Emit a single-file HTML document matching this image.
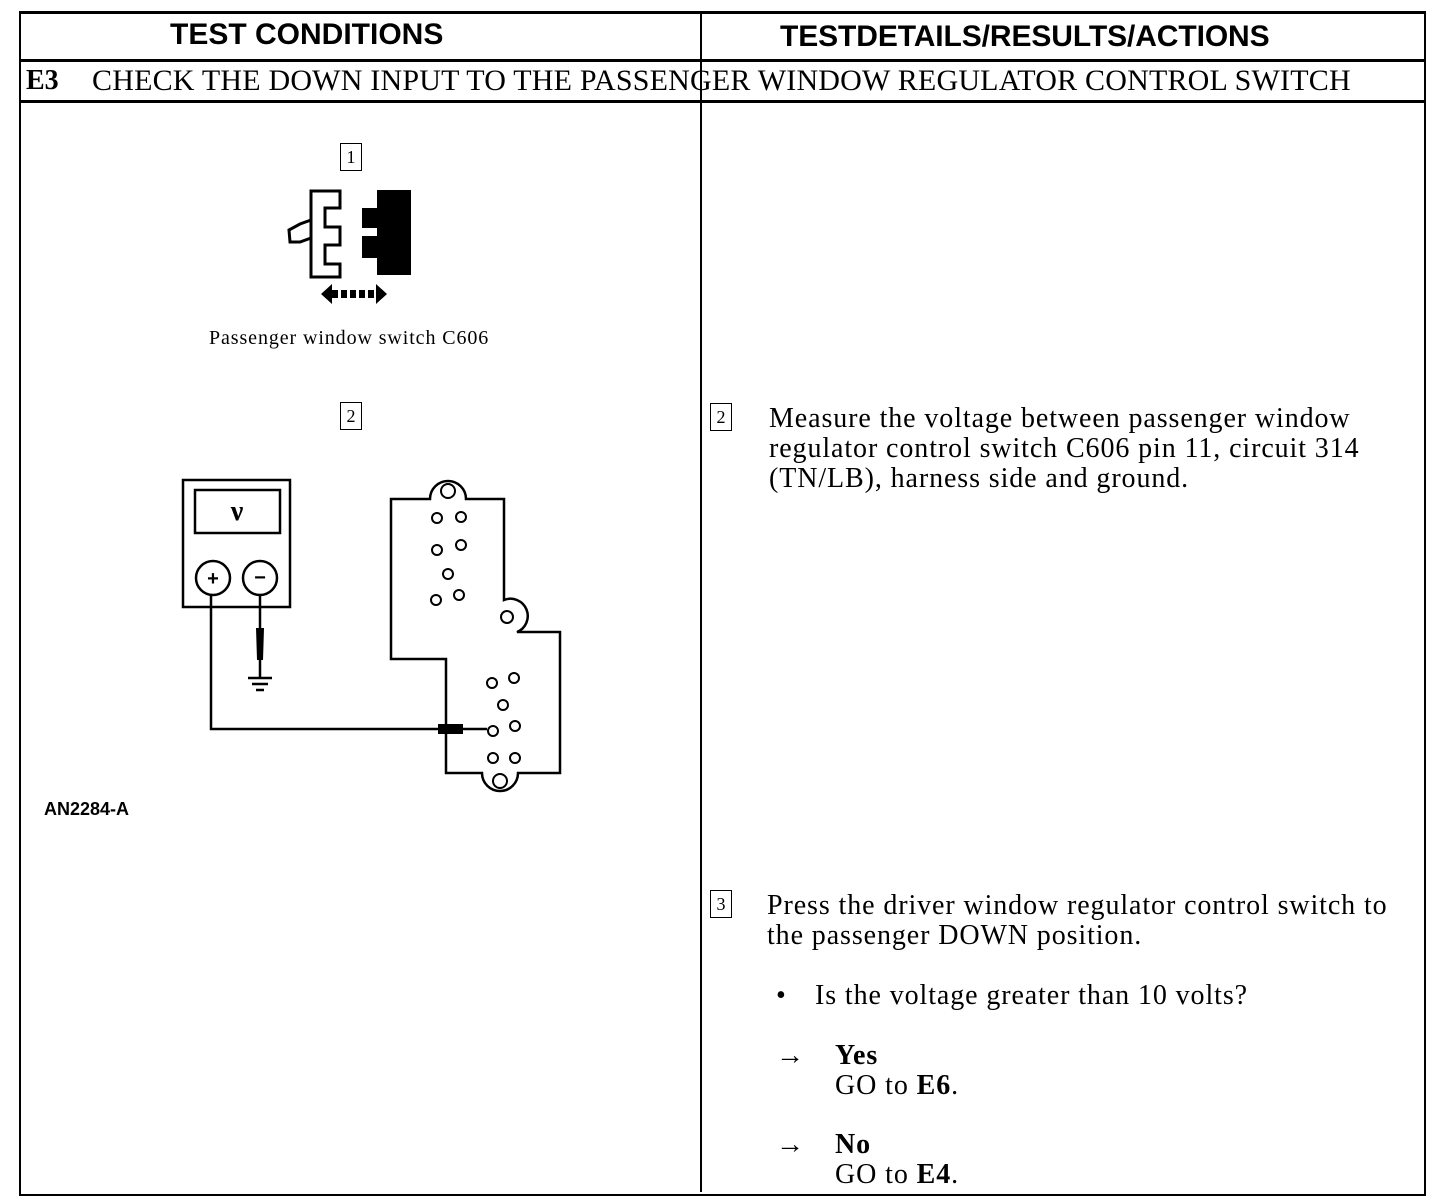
<!DOCTYPE html>
<html><head><style>
body{margin:0;background:#fff;width:1440px;height:1200px;position:relative;overflow:hidden;font-family:"Liberation Serif",serif;color:#000}
.a{position:absolute}
.h{font-family:"Liberation Sans",sans-serif;font-weight:bold;font-size:30px;letter-spacing:0px;white-space:nowrap}
.t{font-size:28px;line-height:30px;letter-spacing:0.9px;white-space:nowrap}
.box{position:absolute;border:1.5px solid #000;font-size:18px;text-align:center;width:20px;height:26px;line-height:26px}
</style></head><body>
<div class="a" style="left:19px;top:11px;width:1403px;height:1180px;border:2px solid #000;border-top:3px solid #000"></div>
<div class="a" style="left:700px;top:12px;width:2px;height:1180px;background:#000"></div>
<div class="a" style="left:19px;top:59px;width:1405px;height:3px;background:#000"></div>
<div class="a" style="left:19px;top:100px;width:1405px;height:3px;background:#000"></div>
<div class="a h" style="left:170px;top:18px">TEST CONDITIONS</div>
<div class="a h" style="left:780px;top:20px;letter-spacing:-0.1px">TESTDETAILS/RESULTS/ACTIONS</div>
<div class="a" style="left:26px;top:65px;font-size:28px;font-weight:bold">E3</div>
<div class="a" style="left:92px;top:64px;white-space:nowrap;font-size:30px;letter-spacing:0.2px">CHECK THE DOWN INPUT TO THE PASSENGER WINDOW REGULATOR CONTROL SWITCH</div>

<div class="box" style="left:340px;top:143px">1</div>
<div class="box" style="left:340px;top:402px">2</div>
<div class="a" style="left:209px;top:327px;font-size:20px;letter-spacing:0.9px;white-space:nowrap">Passenger window switch C606</div>
<div class="a" style="left:44px;top:799px;font-family:'Liberation Sans',sans-serif;font-size:18px;font-weight:bold">AN2284-A</div>

<svg class="a" style="left:0;top:0" width="700" height="1200">
<g stroke="#000" stroke-width="3" fill="none">
<path d="M311,191 H340 V208 H325 V227 H340 V245 H325 V264 H340 V277 H311 Z"/>
<path d="M311,220 L300,224 L289,230 L290,242 L300,242 L311,238"/>
</g>
<path d="M377,190 H411 V275 H377 V258 H362 V236 H377 V228 H362 V208 H377 Z" fill="#000"/>
<path d="M321,294 L332,284 V304 Z M387,294 L376,284 V304 Z" fill="#000"/>
<g fill="#000"><rect x="332" y="290" width="6" height="8"/><rect x="341" y="290" width="6" height="8"/><rect x="350" y="290" width="6" height="8"/><rect x="359" y="290" width="6" height="8"/><rect x="368" y="290" width="6" height="8"/></g>

<g stroke="#000" stroke-width="2.5" fill="none">
<rect x="183" y="480" width="107" height="127"/>
<rect x="195" y="490" width="85" height="43"/>
<circle cx="213" cy="578" r="17"/><circle cx="260" cy="578" r="17"/>
<path d="M211,595 V729 H440"/>
<path d="M260,595 V634"/>
<path d="M260,660 V677 M248,678 H272 M252,684 H268 M256,690 H264"/>
<path d="M463,729 H487"/>
<path d="M391,499 H430 A18,18 0 0 1 466,499 H504 V600 A14,14 0 0 1 517,632 H560 V773 H518 A18,18 0 0 1 482,773 H446 V659 H391 Z"/>
</g>
<path d="M256,628 h8 l-1,32 h-6 z" fill="#000"/>
<rect x="438" y="724" width="25" height="10" fill="#000"/>
<text x="237" y="520" font-family="Liberation Serif" font-weight="bold" font-size="28" text-anchor="middle">ν</text>
<text x="213" y="585" font-family="Liberation Sans" font-weight="bold" font-size="20" text-anchor="middle">+</text>
<text x="260" y="584" font-family="Liberation Sans" font-weight="bold" font-size="20" text-anchor="middle">−</text>
<g stroke="#000" stroke-width="2" fill="none">
<circle cx="448" cy="491" r="7"/><circle cx="500" cy="781" r="7"/><circle cx="507" cy="617" r="6"/>
<circle cx="437" cy="518" r="5"/><circle cx="461" cy="517" r="5"/>
<circle cx="437" cy="550" r="5"/><circle cx="461" cy="545" r="5"/>
<circle cx="448" cy="574" r="5"/>
<circle cx="436" cy="600" r="5"/><circle cx="459" cy="595" r="5"/>
<circle cx="492" cy="683" r="5"/><circle cx="514" cy="678" r="5"/>
<circle cx="503" cy="705" r="5"/>
<circle cx="493" cy="731" r="5"/><circle cx="515" cy="726" r="5"/>
<circle cx="493" cy="758" r="5"/><circle cx="515" cy="758" r="5"/>
</g>
</svg>

<div class="box" style="left:710px;top:403px">2</div>
<div class="a t" style="left:769px;top:404px">Measure the voltage between passenger window<br>regulator control switch C606 pin 11, circuit 314<br>(TN/LB), harness side and ground.</div>
<div class="box" style="left:710px;top:890px">3</div>
<div class="a t" style="left:767px;top:891px">Press the driver window regulator control switch to<br>the passenger DOWN position.</div>
<div class="a t" style="left:776px;top:981px">•</div>
<div class="a t" style="left:815px;top:981px">Is the voltage greater than 10 volts?</div>
<div class="a t" style="left:776px;top:1041px">→</div>
<div class="a t" style="left:835px;top:1041px"><b>Yes</b><br>GO to <b>E6</b>.</div>
<div class="a t" style="left:776px;top:1130px">→</div>
<div class="a t" style="left:835px;top:1130px"><b>No</b><br>GO to <b>E4</b>.</div>
</body></html>
